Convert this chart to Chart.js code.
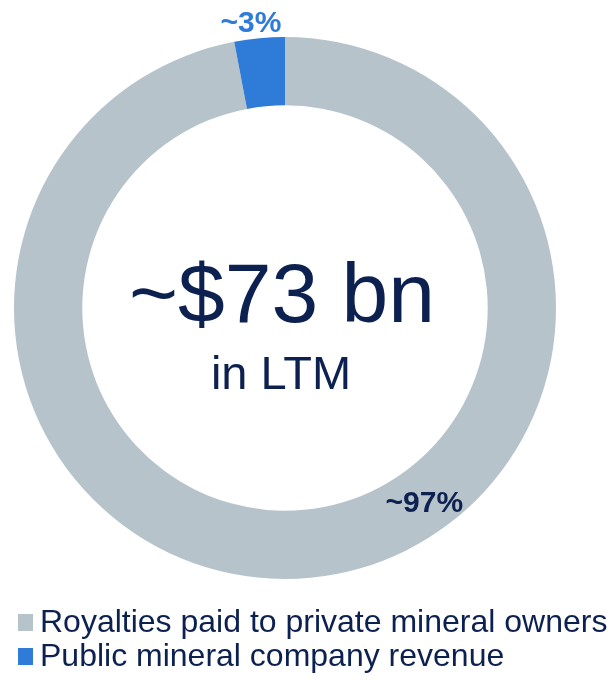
<!DOCTYPE html>
<html>
<head>
<meta charset="utf-8">
<script src="https://cdn.jsdelivr.net/npm/chart.js@4"></script>
<style>
    html, body { margin: 0; padding: 0; background: #fff; }
    #wrap { width: 613px; height: 680px; position: relative; }
</style>
</head>
<body>
<div id="wrap"><canvas id="revenueChart" width="613" height="680"></canvas></div>
<script>
    const segmentLabels = ['Royalties paid to private mineral owners', 'Public mineral company revenue'];
    const segmentShares = [97, 3];
    const segmentColors = ['#b7c3cb', '#2e7bd8'];
    const valueTextColors = ['#0c2150', '#2e7bd8'];
    const centerLines = ['~$73 bn', 'in LTM'];

    const NAVY = '#0c2150';
    const FONT = '"Liberation Sans", Arial, Helvetica, sans-serif';

    // value labels: gray one sits inside the ring, blue one just above the outer edge
    const valueLabelPlugin = {
        id: 'valueLabels',
        afterDatasetsDraw(chart) {
            const c = chart.ctx;
            const arcs = chart.getDatasetMeta(0).data;
            c.save();
            c.font = 'bold 30px ' + FONT;
            c.textAlign = 'center';
            c.textBaseline = 'middle';
            arcs.forEach((arc, i) => {
                const p = arc.getProps(['x', 'y', 'startAngle', 'endAngle', 'innerRadius', 'outerRadius'], true);
                let angle, r;
                if (i === 0) {
                    angle = -Math.PI / 2 + (144.5 / 180) * Math.PI;
                    r = (p.innerRadius + p.outerRadius) / 2 + 3;
                } else {
                    angle = (p.startAngle + p.endAngle) / 2 - 0.025;
                    r = p.outerRadius + 15;
                }
                c.fillStyle = valueTextColors[i];
                c.fillText('~' + segmentShares[i] + '%', p.x + Math.cos(angle) * r, p.y + Math.sin(angle) * r);
            });
            c.restore();
        }
    };

    const centerTextPlugin = {
        id: 'centerText',
        afterDraw(chart) {
            const c = chart.ctx;
            const arc = chart.getDatasetMeta(0).data[0];
            c.save();
            c.fillStyle = NAVY;
            c.textAlign = 'center';
            c.textBaseline = 'alphabetic';
            c.font = '84px ' + FONT;
            c.fillText(centerLines[0], arc.x - 3, 322);
            c.font = '47px ' + FONT;
            c.fillText(centerLines[1], arc.x - 4, 389);
            c.restore();
        }
    };

    // simple left-aligned legend under the ring
    const legendPlugin = {
        id: 'sideLegend',
        afterDraw(chart) {
            const c = chart.ctx;
            const rows = [632, 666];
            c.save();
            c.font = '32px ' + FONT;
            c.textBaseline = 'alphabetic';
            c.textAlign = 'left';
            chart.data.labels.forEach((label, i) => {
                c.fillStyle = chart.data.datasets[0].backgroundColor[i];
                c.fillRect(18, rows[i] - 18, 15, 17);
                c.fillStyle = NAVY;
                c.fillText(label, 40, rows[i]);
            });
            c.restore();
        }
    };

    new Chart(document.getElementById('revenueChart'), {
        type: 'doughnut',
        data: {
            labels: segmentLabels,
            datasets: [{
                data: segmentShares,
                backgroundColor: segmentColors,
                borderWidth: 0
            }]
        },
        options: {
            responsive: false,
            animation: false,
            cutout: '74.8%',
            layout: {
                padding: { left: 14, right: 57, top: 37, bottom: 101 }
            },
            plugins: {
                legend: { display: false },
                tooltip: { enabled: false }
            }
        },
        plugins: [valueLabelPlugin, centerTextPlugin, legendPlugin]
    });
</script>
</body>
</html>
